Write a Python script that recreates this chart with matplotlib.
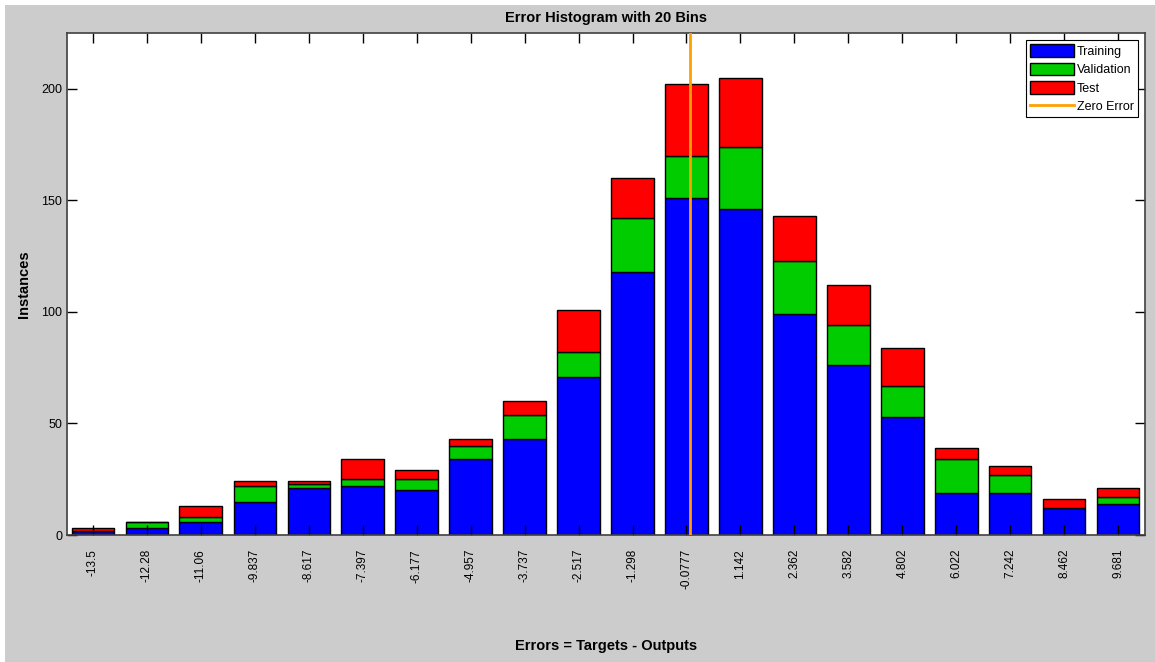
import numpy as np
import matplotlib
matplotlib.use('Agg')
import matplotlib.pyplot as plt
from matplotlib.patches import Rectangle

plt.rcParams['font.family'] = ['Liberation Sans', 'DejaVu Sans']

# bin centres (tick labels as printed by MATLAB)
bin_labels = ['-13.5', '-12.28', '-11.06', '-9.837', '-8.617', '-7.397', '-6.177',
              '-4.957', '-3.737', '-2.517', '-1.298', '-0.0777', '1.142', '2.362',
              '3.582', '4.802', '6.022', '7.242', '8.462', '9.681']
bin_centers = [float(s) for s in bin_labels]

training   = [2, 3, 6, 15, 21, 22, 20, 34, 43, 71, 118, 151, 146, 99, 76, 53, 19, 19, 12, 14]
validation = [0, 3, 2, 7, 2, 3, 5, 6, 11, 11, 24, 19, 28, 24, 18, 14, 15, 8, 0, 3]
test       = [1, 0, 5, 2, 1, 9, 4, 3, 6, 19, 18, 32, 31, 20, 18, 17, 5, 4, 4, 4]

x = np.array(bin_centers)
tr = np.array(training)
va = np.array(validation)
te = np.array(test)
binw = (x[-1] - x[0]) / (len(x) - 1)

fig = plt.figure(figsize=(11.55, 6.62), dpi=100, facecolor='white')
# grey window area, with thin white margin top/left like the screenshot
fig.patches.append(Rectangle((5 / 1155, 0), 1, 1 - 5 / 662, transform=fig.transFigure,
                             facecolor='#cccccc', edgecolor='none', zorder=-10))

ax = fig.add_axes([67 / 1155, (662 - 535) / 662, (1145 - 67) / 1155, (535 - 33) / 662])
ax.set_facecolor('white')

w = binw * 0.79
kw = dict(width=w, edgecolor='black', linewidth=1.0)
h1 = ax.bar(x, tr, color='#0000ff', label='Training', **kw)
h2 = ax.bar(x, va, bottom=tr, color='#00cc00', label='Validation', **kw)
h3 = ax.bar(x, te, bottom=tr + va, color='#ff0000', label='Test', **kw)
h4 = ax.axvline(0, color='#ffa000', linewidth=2, label='Zero Error', zorder=5)

ax.set_xlim(x[0] - binw * 0.48, x[-1] + binw / 2)
ax.set_ylim(0, 225)
ax.set_xticks(x)
ax.set_xticklabels(bin_labels, rotation=90, fontsize=8.5)
ax.set_yticks([0, 50, 100, 150, 200])
ax.tick_params(axis='y', labelsize=9)
ax.tick_params(direction='in', length=7, width=1, top=True, right=True, color='black')
ax.tick_params(axis='x', pad=10)
for s in ax.spines.values():
    s.set_color('#404040')
    s.set_linewidth(1.2)

ax.set_title('Error Histogram with 20 Bins', fontsize=10.5, fontweight='bold', pad=8)
fig.text(606 / 1155, 1 - 646 / 662, 'Errors = Targets - Outputs', ha='center', va='center',
         fontsize=10.5, fontweight='bold')
fig.text(24 / 1155, 1 - 284 / 662, 'Instances', ha='center', va='center', rotation=90,
         fontsize=10.5, fontweight='bold')

leg = ax.legend([h1, h2, h3, h4], ['Training', 'Validation', 'Test', 'Zero Error'],
                loc='upper right', fontsize=9, fancybox=False, framealpha=1,
                edgecolor='black', handlelength=3.5, handleheight=1.15, handletextpad=0.25,
                labelspacing=0.4, borderpad=0.35, borderaxespad=0.55)
leg.get_frame().set_linewidth(0.8)

fig.savefig('out.png', dpi=100, facecolor=fig.get_facecolor())
